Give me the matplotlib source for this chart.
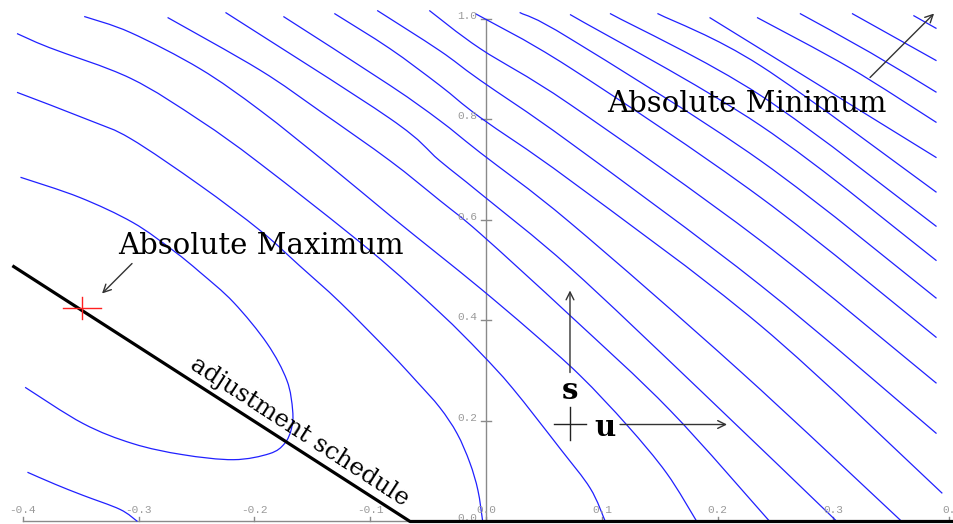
import matplotlib
matplotlib.use("Agg")
import matplotlib.pyplot as plt
from matplotlib.path import Path
from matplotlib.patches import PathPatch

# ---------------- data ----------------
x_ticks = [-0.4, -0.3, -0.2, -0.1, 0.0, 0.1, 0.2, 0.3, 0.4]
x_tick_labels = ["-0.4", "-0.3", "-0.2", "-0.1", "0.0", "0.1", "0.2", "0.3", "0."]
y_ticks = [0.0, 0.2, 0.4, 0.6, 0.8, 1.0]
y_tick_labels = ["0.0", "0.2", "0.4", "0.6", "0.8", "1.0"]

# contour lines (level curves), lower-left to upper-right
c01_x = [-0.396, -0.372, -0.348, -0.316, -0.301]
c01_y = [0.098, 0.074, 0.052, 0.024, 0.0]
c02_x = [-0.402, -0.351, -0.305, -0.270, -0.247, -0.218, -0.189, -0.172, -0.167, -0.168,
         -0.174, -0.187, -0.218, -0.262, -0.305, -0.348, -0.398]
c02_y = [0.685, 0.645, 0.595, 0.539, 0.496, 0.436, 0.354, 0.281, 0.221, 0.185,
         0.155, 0.135, 0.123, 0.133, 0.155, 0.195, 0.267]
c03_x = [-0.405, -0.342, -0.307, -0.247, -0.195, -0.161, -0.126, -0.083, -0.060, -0.040,
         -0.025, -0.014, -0.007, -0.003]
c03_y = [0.854, 0.798, 0.762, 0.669, 0.579, 0.509, 0.436, 0.336, 0.279, 0.227,
         0.175, 0.117, 0.062, 0.002]
c04_x = [-0.405, -0.377, -0.307, -0.247, -0.195, -0.100, -0.040, -0.005, 0.023, 0.064, 0.090, 0.103]
c04_y = [0.971, 0.943, 0.882, 0.798, 0.712, 0.539, 0.416, 0.336, 0.265, 0.145, 0.066, 0.0]
c05_x = [-0.347, -0.307, -0.247, -0.195, -0.135, -0.083, -0.042, -0.005, 0.038, 0.081, 0.122, 0.156, 0.182]
c05_y = [1.005, 0.973, 0.901, 0.818, 0.708, 0.609, 0.533, 0.464, 0.380, 0.291, 0.191, 0.096, 0.0]
c06_x = [-0.275, -0.195, -0.143, -0.083, -0.040, -0.005, 0.0725, 0.159, 0.245]
c06_y = [1.003, 0.898, 0.816, 0.718, 0.639, 0.573, 0.410, 0.221, 0.0]
c07_x = [-0.225, -0.083, -0.040, -0.005, 0.0725, 0.185, 0.303]
c07_y = [1.013, 0.802, 0.718, 0.653, 0.505, 0.261, 0.0]
c08_x = [-0.175, -0.083, -0.040, -0.005, 0.0725, 0.219, 0.359]
c08_y = [1.005, 0.868, 0.798, 0.734, 0.595, 0.300, 0.0]
c09_x = [-0.131, -0.083, -0.040, -0.005, 0.0725, 0.237, 0.394]
c09_y = [1.011, 0.941, 0.868, 0.804, 0.679, 0.390, 0.056]
c10_x = [-0.094, -0.040, -0.005, 0.0725, 0.237, 0.389]
c10_y = [1.017, 0.937, 0.878, 0.754, 0.470, 0.175]
c11_x = [-0.049, -0.005, 0.0725, 0.237, 0.389]
c11_y = [1.017, 0.941, 0.830, 0.559, 0.275]
c12_x = [-0.0095, 0.0725, 0.237, 0.389]
c12_y = [1.011, 0.903, 0.645, 0.366]
c13_x = [0.029, 0.0725, 0.237, 0.389]
c13_y = [1.013, 0.961, 0.718, 0.444]
c14_x = [0.0725, 0.237, 0.389]
c14_y = [1.009, 0.788, 0.519]
c15_x = [0.107, 0.237, 0.389]
c15_y = [1.011, 0.848, 0.587]
c16_x = [0.148, 0.237, 0.389]
c16_y = [1.011, 0.907, 0.655]
c17_x = [0.193, 0.389]
c17_y = [1.003, 0.724]
c18_x = [0.234, 0.314, 0.389]
c18_y = [1.003, 0.903, 0.794]
c19_x = [0.271, 0.332, 0.389]
c19_y = [1.011, 0.933, 0.854]
c20_x = [0.316, 0.389]
c20_y = [1.011, 0.917]
c21_x = [0.369, 0.389]
c21_y = [1.007, 0.981]

# adjustment schedule
schedule_x = [-0.409, -0.0656, 0.404]
schedule_y = [0.509, 0.0, 0.0]

# marked points
max_point = (-0.349, 0.424)
origin_point = (0.0725, 0.195)

contours = [(c01_x, c01_y), (c02_x, c02_y), (c03_x, c03_y), (c04_x, c04_y), (c05_x, c05_y),
            (c06_x, c06_y), (c07_x, c07_y), (c08_x, c08_y), (c09_x, c09_y), (c10_x, c10_y),
            (c11_x, c11_y), (c12_x, c12_y), (c13_x, c13_y), (c14_x, c14_y), (c15_x, c15_y),
            (c16_x, c16_y), (c17_x, c17_y), (c18_x, c18_y), (c19_x, c19_y), (c20_x, c20_y),
            (c21_x, c21_y)]


def smooth_path(xs, ys):
    """Cubic Bezier path passing through every read point (Catmull-Rom style)."""
    pts = list(zip(xs, ys))
    n = len(pts)
    verts = [pts[0]]
    codes = [Path.MOVETO]
    for i in range(n - 1):
        p0 = pts[i - 1] if i > 0 else pts[i]
        p1 = pts[i]
        p2 = pts[i + 1]
        p3 = pts[i + 2] if i + 2 < n else pts[i + 1]
        c1 = (p1[0] + (p2[0] - p0[0]) / 6.0, p1[1] + (p2[1] - p0[1]) / 6.0)
        c2 = (p2[0] - (p3[0] - p1[0]) / 6.0, p2[1] - (p3[1] - p1[1]) / 6.0)
        verts += [c1, c2, p2]
        codes += [Path.CURVE4, Path.CURVE4, Path.CURVE4]
    return Path(verts, codes)


# ---------------- figure ----------------
fig = plt.figure(figsize=(9.54, 5.24), dpi=100)
ax = fig.add_axes([0, 0, 1, 1])
ax.set_xlim(-0.4197, 0.4041)
ax.set_ylim(-0.0050, 1.0378)
ax.axis("off")

axis_col = "#8a8a8a"
tick_font = dict(family=["Liberation Mono", "DejaVu Sans Mono"], size=8, color="#9a9a9a")

# axes through origin
ax.plot([x_ticks[0], x_ticks[-1]], [0, 0], color=axis_col, lw=1.0, zorder=1)
ax.plot([0, 0], [0, y_ticks[-1]], color=axis_col, lw=1.0, zorder=1)
for xt, lab in zip(x_ticks, x_tick_labels):
    ax.plot([xt, xt], [0, 0.009], color=axis_col, lw=1.0, zorder=1)
    ax.text(xt, 0.022, lab, ha="center", va="center", **tick_font)
for yt, lab in zip(y_ticks, y_tick_labels):
    ax.plot([-0.0045, 0.0045], [yt, yt], color=axis_col, lw=1.0, zorder=1)
    ax.text(-0.0075, yt + 0.006, lab, ha="right", va="center", **tick_font)

# contour lines
for cx, cy in contours:
    ax.add_patch(PathPatch(smooth_path(cx, cy), fill=False, edgecolor="#2020ff",
                           lw=0.9, zorder=2))

# schedule
ax.plot(schedule_x, schedule_y, color="black", lw=2.3, zorder=3, solid_capstyle="butt")

# red cross at maximum
mx, my = max_point
ax.plot([mx - 0.0164, mx + 0.0164], [my, my], color="#ff2020", lw=1.0, zorder=4)
ax.plot([mx, mx], [my - 0.022, my + 0.022], color="#ff2020", lw=1.0, zorder=4)

# black cross with s/u arrows
ox, oy = origin_point
ax.plot([ox - 0.0138, ox + 0.0138], [oy, oy], color="#222222", lw=1.0, zorder=4)
ax.plot([ox, ox], [oy - 0.032, oy + 0.032], color="#222222", lw=1.0, zorder=4)

arrow_kw = dict(arrowstyle="->", color="#333333", lw=1.0, shrinkA=0, shrinkB=0,
                mutation_scale=14)
ax.annotate("", xy=(0.0725, 0.4597), xytext=(0.0725, 0.2965), arrowprops=arrow_kw)
ax.annotate("", xy=(0.2081, 0.193), xytext=(0.1157, 0.193), arrowprops=arrow_kw)
ax.annotate("", xy=(-0.3316, 0.4537), xytext=(-0.3057, 0.5134), arrowprops=arrow_kw)
ax.annotate("", xy=(0.3869, 1.0109), xytext=(0.3316, 0.8836), arrowprops=arrow_kw)

serif = ["DejaVu Serif"]
ax.text(-0.318, 0.533, "Absolute Maximum", family=serif, size=21, ha="left",
        va="baseline", color="black", zorder=5)
ax.text(0.1045, 0.814, "Absolute Minimum", family=serif, size=21, ha="left",
        va="baseline", color="black", zorder=5)
ax.text(-0.161, 0.178, "adjustment schedule", family=serif, size=17.5, ha="center",
        va="center", rotation=-32.9, rotation_mode="anchor", color="black", zorder=5)
ax.text(0.0725, 0.261, "s", family=serif, size=21, weight="bold", ha="center",
        va="center", color="black", zorder=5)
ax.text(0.103, 0.187, "u", family=serif, size=21, weight="bold", ha="center",
        va="center", color="black", zorder=5)

fig.savefig("out.png", dpi=100)
